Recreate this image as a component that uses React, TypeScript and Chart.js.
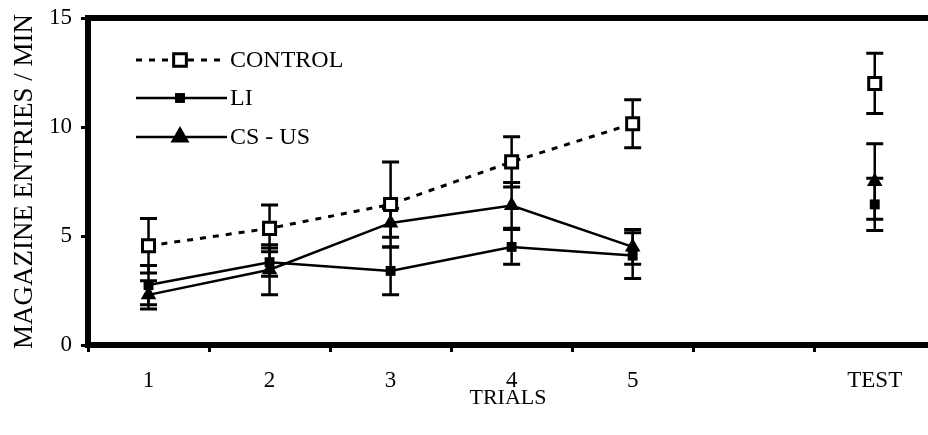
import React, { useEffect, useRef } from 'react';
import { Chart, registerables } from 'chart.js';

Chart.register(...registerables);

// ---- data ----
const positions = [1, 2, 3, 4, 5, 6, 7]; // 6 is an empty slot before TEST
const positionLabels = ['1', '2', '3', '4', '5', '', 'TEST'];
const boundaryTicks = [0.5, 1.5, 2.5, 3.5, 4.5, 5.5, 6.5];
const yTicks = [0, 5, 10, 15];
const seriesNames = ['CONTROL', 'LI', 'CS - US'];

const controlMeans = [4.55, 5.35, 6.45, 8.4, 10.15, null, 12.0];
const controlErr = [1.25, 1.07, 1.95, 1.15, 1.1, null, 1.38];
const liMeans = [2.75, 3.8, 3.4, 4.5, 4.1, null, 6.45];
const liErr = [0.9, 0.65, 1.1, 0.8, 1.05, null, 1.2];
const csMeans = [2.3, 3.45, 5.6, 6.4, 4.5, null, 7.5];
const csErr = [0.65, 1.15, 0.66, 1.05, 0.8, null, 1.73];

const FONT = '"Liberation Serif", "Times New Roman", serif';

const toPoints = (means: (number | null)[]) =>
  positions.map((x, i) => ({ x, y: means[i] }));

const errorBarPlugin = {
  id: 'errorBars',
  beforeDatasetsDraw(chart: any) {
    const ctx = chart.ctx;
    const yScale = chart.scales.y;
    chart.data.datasets.forEach((ds: any, i: number) => {
      const meta = chart.getDatasetMeta(i);
      const errs = ds.errors as (number | null)[];
      meta.data.forEach((pt: any, j: number) => {
        const v = ds.data[j].y;
        const e = errs[j];
        if (v == null || e == null) return;
        const x = pt.x;
        const yT = yScale.getPixelForValue(v + e);
        const yB = yScale.getPixelForValue(v - e);
        ctx.save();
        ctx.strokeStyle = '#000';
        ctx.lineWidth = 2.5;
        ctx.beginPath();
        ctx.moveTo(x, yT);
        ctx.lineTo(x, yB);
        ctx.stroke();
        ctx.lineWidth = 3;
        ctx.beginPath();
        ctx.moveTo(x - 8.5, yT);
        ctx.lineTo(x + 8.5, yT);
        ctx.moveTo(x - 8.5, yB);
        ctx.lineTo(x + 8.5, yB);
        ctx.stroke();
        ctx.restore();
      });
    });
  },
};

function drawMarker(ctx: CanvasRenderingContext2D, style: string, x: number, y: number, r: number, fill: string, bw: number) {
  ctx.beginPath();
  if (style === 'rect') {
    const s = Math.SQRT1_2 * r;
    ctx.rect(x - s, y - s, 2 * s, 2 * s);
  } else {
    let rad = 0;
    ctx.moveTo(x + Math.sin(rad) * r, y - Math.cos(rad) * r);
    rad += (2 * Math.PI) / 3;
    ctx.lineTo(x + Math.sin(rad) * r, y - Math.cos(rad) * r);
    rad += (2 * Math.PI) / 3;
    ctx.lineTo(x + Math.sin(rad) * r, y - Math.cos(rad) * r);
    ctx.closePath();
  }
  ctx.fillStyle = fill;
  ctx.fill();
  if (bw > 0) {
    ctx.lineWidth = bw;
    ctx.strokeStyle = '#000';
    ctx.stroke();
  }
}

const legendPlugin = {
  id: 'customLegend',
  afterDraw(chart: any) {
    const ctx = chart.ctx;
    const rows = [60, 98, 137];
    const x0 = 136;
    const x1 = 227;
    const mx = 180;
    chart.data.datasets.forEach((ds: any, i: number) => {
      const y = rows[i];
      ctx.save();
      ctx.strokeStyle = '#000';
      ctx.lineWidth = ds.borderWidth;
      ctx.setLineDash(ds.borderDash || []);
      ctx.beginPath();
      ctx.moveTo(x0, y);
      ctx.lineTo(x1, y);
      ctx.stroke();
      ctx.setLineDash([]);
      drawMarker(ctx, ds.pointStyle, mx, y, ds.legendRadius, ds.pointBackgroundColor, ds.pointBorderWidth);
      ctx.fillStyle = '#000';
      ctx.font = `24px ${FONT}`;
      ctx.textBaseline = 'middle';
      ctx.textAlign = 'left';
      ctx.fillText(seriesNames[i], x1 + 3, y + 1);
      ctx.restore();
    });
  },
};

export default function App() {
  const ref = useRef<HTMLCanvasElement>(null);
  useEffect(() => {
    const canvas = ref.current!;
    const chart = new Chart(canvas, {
      type: 'line',
      data: {
        datasets: [
          {
            label: seriesNames[0],
            data: toPoints(controlMeans),
            errors: controlErr,
            borderColor: '#000',
            borderWidth: 3,
            borderDash: [6, 7],
            pointStyle: 'rect',
            pointRadius: 8.5,
            legendRadius: 9,
            pointBorderWidth: 3,
            pointBorderColor: '#000',
            pointBackgroundColor: '#fff',
            tension: 0,
            spanGaps: false,
            clip: false,
            order: 0,
          } as any,
          {
            label: seriesNames[1],
            data: toPoints(liMeans),
            errors: liErr,
            borderColor: '#000',
            borderWidth: 2.5,
            pointStyle: 'rect',
            pointRadius: 7,
            legendRadius: 7,
            pointBorderWidth: 0,
            pointBorderColor: '#000',
            pointBackgroundColor: '#000',
            tension: 0,
            spanGaps: false,
            clip: false,
            order: 2,
          } as any,
          {
            label: seriesNames[2],
            data: toPoints(csMeans),
            errors: csErr,
            borderColor: '#000',
            borderWidth: 2.5,
            pointStyle: 'triangle',
            pointRadius: 9,
            legendRadius: 11,
            pointBorderWidth: 0,
            pointBorderColor: '#000',
            pointBackgroundColor: '#000',
            tension: 0,
            spanGaps: false,
            clip: false,
            order: 1,
          } as any,
        ],
      },
      options: {
        animation: false,
        responsive: false,
        devicePixelRatio: 1,
        layout: { padding: 0, autoPadding: false },
        plugins: { legend: { display: false }, tooltip: { enabled: false } },
        scales: {
          x: {
            type: 'linear',
            position: 'bottom',
            min: 0.5,
            max: 7.44,
            afterBuildTicks: (scale: any) => {
              const vals = [...boundaryTicks, ...positions].sort((a, b) => a - b);
              scale.ticks = vals.map((v) => ({ value: v }));
            },
            afterFit: (scale: any) => {
              scale.height = 90;
              scale.paddingLeft = 0;
              scale.paddingRight = 0;
            },
            ticks: {
              autoSkip: false,
              maxRotation: 0,
              minRotation: 0,
              padding: 15,
              color: '#000',
              font: { family: FONT, size: 23 },
              callback: (value: any) => {
                const idx = positions.indexOf(Number(value));
                return idx >= 0 ? positionLabels[idx] : '';
              },
            },
            grid: {
              display: true,
              drawOnChartArea: false,
              drawTicks: true,
              tickLength: 7,
              tickWidth: 3,
              tickColor: (c: any) =>
                c.tick && boundaryTicks.includes(c.tick.value) ? '#000' : 'rgba(0,0,0,0)',
            },
            border: { display: true, color: '#000', width: 6 },
            title: {
              display: true,
              text: 'TRIALS',
              color: '#000',
              font: { family: FONT, size: 22 },
              padding: { top: 0, bottom: 24 },
            },
          },
          x2: {
            type: 'linear',
            position: 'top',
            min: 0.5,
            max: 7.44,
            afterFit: (scale: any) => {
              scale.height = 18;
              scale.paddingLeft = 0;
              scale.paddingRight = 0;
            },
            ticks: { display: false },
            grid: { display: false, drawTicks: false },
            border: { display: true, color: '#000', width: 6 },
          },
          y: {
            type: 'linear',
            min: 0,
            max: 15,
            afterBuildTicks: (scale: any) => {
              scale.ticks = yTicks.map((v) => ({ value: v }));
            },
            afterFit: (scale: any) => {
              scale.width = 88;
              scale.paddingTop = 0;
              scale.paddingBottom = 0;
            },
            ticks: {
              padding: 9,
              color: '#000',
              font: { family: FONT, size: 23 },
            },
            grid: {
              display: true,
              drawOnChartArea: false,
              drawTicks: true,
              tickLength: 7,
              tickWidth: 3,
              tickColor: '#000',
            },
            border: { display: true, color: '#000', width: 6 },
            title: {
              display: true,
              text: 'MAGAZINE ENTRIES / MIN',
              color: '#000',
              font: { family: FONT, size: 27 },
              padding: { top: 9, bottom: 0 },
            },
          },
        },
      },
      plugins: [errorBarPlugin, legendPlugin],
    } as any);
    return () => chart.destroy();
  }, []);
  return (
    <div style={{ position: 'absolute', left: 0, top: 0, width: 928, height: 435, background: '#fff' }}>
      <canvas ref={ref} width={928} height={435} style={{ display: 'block' }} />
    </div>
  );
}
